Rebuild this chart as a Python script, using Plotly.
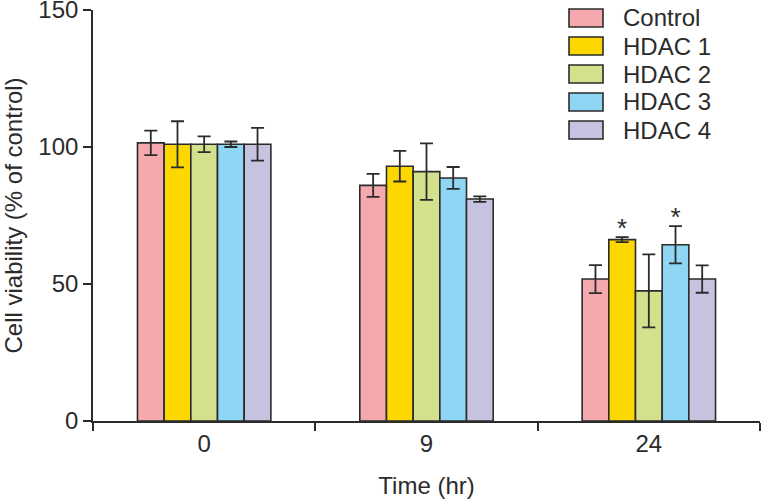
import plotly.graph_objects as go

time_labels = ["0", "9", "24"]
series_names = ["Control", "HDAC 1", "HDAC 2", "HDAC 3", "HDAC 4"]
colors = ["#F5A9AF", "#FDD800", "#D3E08C", "#8ED6F3", "#C6C3E1"]

control = [101.5, 86.0, 51.8]
hdac1 = [101.0, 93.0, 66.2]
hdac2 = [101.0, 91.0, 47.5]
hdac3 = [101.0, 88.7, 64.3]
hdac4 = [101.0, 81.0, 51.8]

control_sd = [4.5, 4.2, 5.1]
hdac1_sd = [8.4, 5.6, 0.9]
hdac2_sd = [2.9, 10.3, 13.3]
hdac3_sd = [1.0, 4.0, 6.8]
hdac4_sd = [6.0, 1.0, 5.0]

means = [control, hdac1, hdac2, hdac3, hdac4]
sds = [control_sd, hdac1_sd, hdac2_sd, hdac3_sd, hdac4_sd]

# significance marks: series index -> list of flags per time point
sig_hdac1 = [False, False, True]
sig_hdac3 = [False, False, True]
sig = {1: sig_hdac1, 3: sig_hdac3}
star_gap = 2.5  # data units above the error bar

FONT = "Liberation Sans, Arial, Helvetica, sans-serif"
INK = "#2b2b2b"
FS = 24

fig = go.Figure()
for i, (name, m, s, c) in enumerate(zip(series_names, means, sds, colors)):
    fig.add_trace(go.Bar(
        x=time_labels, y=m, name=name,
        marker=dict(color=c, line=dict(color=INK, width=1.6)),
        error_y=dict(type="data", array=s, visible=True, color=INK,
                     thickness=1.8, width=6.5),
        offsetgroup=str(i), alignmentgroup="g",
        showlegend=False,
    ))

for i, flags in sig.items():
    xs, ys, ts = [], [], []
    for t, f, m, s in zip(time_labels, flags, means[i], sds[i]):
        if f:
            xs.append(t)
            ys.append(m + s + star_gap)
            ts.append("*")
    fig.add_trace(go.Scatter(
        x=xs, y=ys, text=ts, mode="text", textposition="middle center",
        textfont=dict(family=FONT, size=FS + 2, color=INK),
        offsetgroup=str(i), alignmentgroup="g", showlegend=False,
        hoverinfo="skip",
    ))

# custom legend (large swatches)
plot_top_px, plot_h_px, plot_l_px, plot_w_px = 10, 411, 93, 667
row0_px, row_step_px = 18, 28
box_l_px, box_r_px, box_half_h = 569, 603, 9
text_l_px = 621
for k, (name, c) in enumerate(zip(series_names, colors)):
    yc = row0_px + k * row_step_px
    y0 = (plot_top_px + plot_h_px - (yc + box_half_h)) / plot_h_px
    y1 = (plot_top_px + plot_h_px - (yc - box_half_h)) / plot_h_px
    fig.add_shape(type="rect", xref="paper", yref="paper",
                  x0=(box_l_px - plot_l_px) / plot_w_px,
                  x1=(box_r_px - plot_l_px) / plot_w_px,
                  y0=y0, y1=y1, fillcolor=c,
                  line=dict(color=INK, width=1.6))
    fig.add_annotation(xref="paper", yref="paper",
                       x=(text_l_px - plot_l_px) / plot_w_px,
                       y=(plot_top_px + plot_h_px - yc) / plot_h_px,
                       text=name, showarrow=False, xanchor="left",
                       yanchor="middle",
                       font=dict(family=FONT, size=FS, color=INK))

fig.update_layout(
    width=762, height=501,
    margin=dict(l=93, r=2, t=10, b=80, autoexpand=False),
    paper_bgcolor="white", plot_bgcolor="white",
    barmode="group", bargap=0.4, bargroupgap=0,
    scattermode="group", scattergap=0.4,
    font=dict(family=FONT, size=FS, color=INK),
    showlegend=False,
)
fig.update_xaxes(
    type="category", range=[-0.5, 2.5], automargin=False,
    showline=True, linecolor=INK, linewidth=1.6,
    ticks="outside", ticklen=8, tickwidth=1.6, tickcolor=INK,
    tickson="boundaries", showgrid=False,
    tickfont=dict(size=FS),
    title=dict(text="Time (hr)", font=dict(size=FS), standoff=22),
)
fig.update_yaxes(
    range=[0, 150], tickvals=[0, 50, 100, 150], automargin=False,
    ticklabeloverflow="allow",
    showline=True, linecolor=INK, linewidth=1.6,
    ticks="outside", ticklen=8, tickwidth=1.6, tickcolor=INK,
    showgrid=False, zeroline=False,
    tickfont=dict(size=FS),
    title=dict(text="Cell viability (% of control)", font=dict(size=FS), standoff=12),
)

fig.write_html("out.html", config={"displayModeBar": False},
               post_script="document.body.style.margin='0';document.body.style.overflow='hidden';")
